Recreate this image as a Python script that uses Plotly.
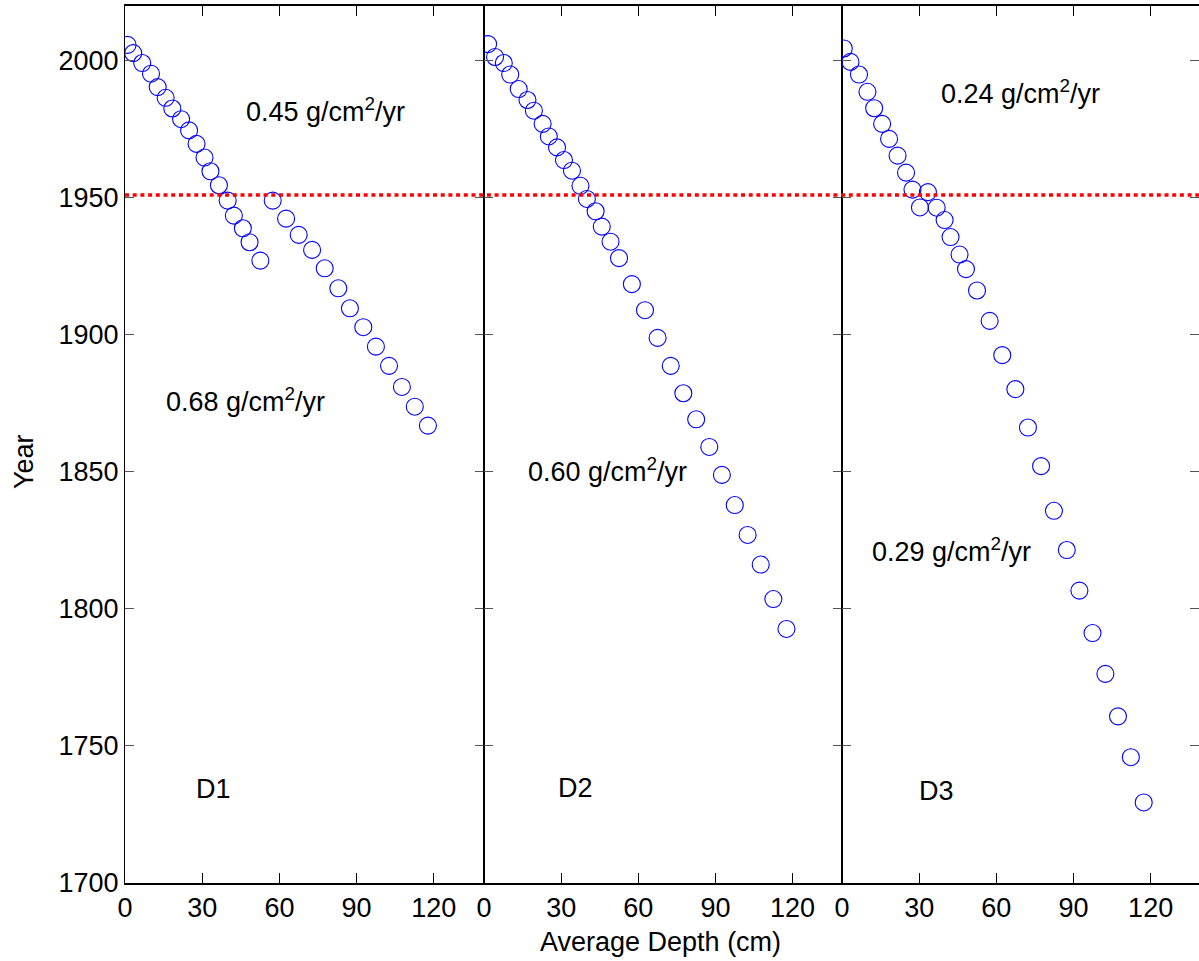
import plotly.graph_objects as go

# ---------------- data ----------------
d1_depth = [1.0, 3.2, 6.7, 10.1, 12.7, 15.8, 18.4, 21.8, 24.9, 27.8, 30.9, 33.2, 36.5, 39.9, 42.3, 45.8,
            48.4, 52.6, 57.4, 62.6, 67.5, 72.7, 77.6, 82.9, 87.4, 92.6, 97.5, 102.6, 107.6, 112.6, 117.7]
d1_year = [2005.8, 2002.8, 1999.2, 1995.3, 1990.4, 1986.5, 1982.6, 1978.7, 1974.6, 1969.7, 1964.7, 1959.7,
           1954.6, 1949.0, 1943.5, 1938.9, 1933.8, 1927.1, 1949.0, 1942.4, 1936.5, 1931.0, 1924.3, 1917.0,
           1909.7, 1902.8, 1895.7, 1888.7, 1881.0, 1873.8, 1866.9]

d2_depth = [1.6, 4.3, 7.7, 10.2, 13.5, 16.9, 19.4, 22.8, 25.2, 28.4, 31.1, 34.2, 37.5, 40.0, 43.4, 45.8,
            49.2, 52.5, 57.5, 62.6, 67.5, 72.6, 77.5, 82.5, 87.6, 92.5, 97.5, 102.5, 107.6, 112.5, 117.6]
d2_year = [2006.1, 2001.4, 1999.2, 1995.0, 1989.7, 1985.7, 1981.8, 1977.0, 1972.4, 1968.4, 1963.8, 1959.9,
           1954.4, 1949.6, 1945.1, 1939.5, 1934.0, 1928.0, 1918.5, 1909.0, 1898.9, 1888.7, 1878.7, 1869.2,
           1859.1, 1848.9, 1837.9, 1827.0, 1816.2, 1803.6, 1792.7]

d3_depth = [0.7, 3.3, 6.6, 9.9, 12.5, 15.6, 18.3, 21.6, 24.9, 27.4, 33.4, 30.3, 36.8, 39.9, 42.2, 45.7,
            48.2, 52.5, 57.4, 62.3, 67.4, 72.3, 77.4, 82.4, 87.4, 92.3, 97.4, 102.4, 107.3, 112.3, 117.3]
d3_year = [2004.5, 1999.6, 1995.0, 1988.7, 1982.7, 1977.0, 1971.5, 1965.4, 1959.2, 1953.0, 1952.1, 1946.5,
           1946.4, 1941.9, 1935.7, 1929.3, 1924.0, 1916.2, 1905.1, 1892.6, 1880.2, 1866.2, 1852.1, 1835.8,
           1821.5, 1806.7, 1791.2, 1776.3, 1760.8, 1745.9, 1729.4]

x_ticks = [0, 30, 60, 90, 120]
y_ticks = [1700, 1750, 1800, 1850, 1900, 1950, 2000]
ref_year = 1951

panel_names = ["D1", "D2", "D3"]
# rate labels: (panel index, depth, year, text)
rate_labels = [
    (0, 78, 1982.1, "0.45 g/cm<sup>2</sup>/yr"),
    (0, 47, 1876.3, "0.68 g/cm<sup>2</sup>/yr"),
    (1, 48, 1850.7, "0.60 g/cm<sup>2</sup>/yr"),
    (2, 69.5, 1988.7, "0.24 g/cm<sup>2</sup>/yr"),
    (2, 42.5, 1821.5, "0.29 g/cm<sup>2</sup>/yr"),
]
name_pos = [(34.2, 1734.3), (35.5, 1734.8), (36.9, 1733.6)]

# ---------------- figure ----------------
W, H = 1199, 961
FONT = "Liberation Sans, Arial, sans-serif"
FS = 27

px_edges = [125, 484, 842, 1199]
x_ranges = [[0, 139.5], [0, 139.2], [0, 138.8]]
y_dom = [1 - 883 / H, 1 - 6 / H]

fig = go.Figure()
series = [(d1_depth, d1_year), (d2_depth, d2_year), (d3_depth, d3_year)]
for i, (dx, dy) in enumerate(series):
    sfx = "" if i == 0 else str(i + 1)
    fig.add_trace(go.Scatter(
        x=dx, y=dy, mode="markers", xaxis="x" + sfx, yaxis="y" + sfx,
        marker=dict(symbol="circle-open", size=17, color="#0000ff", line=dict(width=1.1, color="#0000ff")),
        showlegend=False, hoverinfo="skip"))

layout = dict(
    width=W, height=H, margin=dict(l=0, r=0, t=0, b=0, autoexpand=False),
    paper_bgcolor="white", plot_bgcolor="white",
    font=dict(family=FONT, size=FS, color="black"),
    showlegend=False,
)
for i in range(3):
    sfx = "" if i == 0 else str(i + 1)
    layout["xaxis" + sfx] = dict(
        domain=[px_edges[i] / W, px_edges[i + 1] / W], range=x_ranges[i],
        anchor="y" + sfx, tickvals=x_ticks, ticktext=[str(v) for v in x_ticks],
        ticks="inside", ticklen=10, tickwidth=1, tickcolor="black",
        showline=True, linecolor="black", linewidth=1.5, mirror="allticks",
        showgrid=False, zeroline=False, automargin=False,
        tickfont=dict(family=FONT, size=FS, color="black"),
    )
    layout["yaxis" + sfx] = dict(
        domain=y_dom, range=[1700, 2020], anchor="x" + sfx,
        tickvals=y_ticks, ticktext=[str(v) for v in y_ticks], showticklabels=(i == 0),
        ticks="inside", ticklen=9, tickwidth=1, tickcolor="#555555",
        showline=True, linecolor="black", linewidth=1, mirror="allticks",
        showgrid=False, zeroline=False, automargin=False,
        tickfont=dict(family=FONT, size=FS, color="black"),
    )
fig.update_layout(**layout)

annotations = []
for (p, dx, dy, txt) in rate_labels:
    sfx = "" if p == 0 else str(p + 1)
    annotations.append(dict(x=dx, y=dy, xref="x" + sfx, yref="y" + sfx, text=txt, showarrow=False,
                            font=dict(family=FONT, size=FS, color="black"), xanchor="center", yanchor="middle"))
for p, ((dx, dy), nm) in enumerate(zip(name_pos, panel_names)):
    sfx = "" if p == 0 else str(p + 1)
    annotations.append(dict(x=dx, y=dy, xref="x" + sfx, yref="y" + sfx, text=nm, showarrow=False,
                            font=dict(family=FONT, size=FS, color="black"), xanchor="center", yanchor="middle"))
# axis titles
annotations.append(dict(x=24 / W, y=1 - 462 / H, xref="paper", yref="paper", text="Year", textangle=-90,
                        showarrow=False, font=dict(family=FONT, size=FS, color="black"),
                        xanchor="center", yanchor="middle"))
annotations.append(dict(x=660 / W, y=1 - 942 / H, xref="paper", yref="paper", text="Average Depth (cm)",
                        showarrow=False, font=dict(family=FONT, size=FS, color="black"),
                        xanchor="center", yanchor="middle"))
fig.update_layout(annotations=annotations)

# red dotted reference line across all panels
fig.add_shape(type="line", xref="paper", yref="y", x0=px_edges[0] / W, x1=1, y0=ref_year, y1=ref_year,
              line=dict(color="#ff0000", width=3.5, dash="4px,3.7px"), layer="above")

fig.write_html("out.html")
